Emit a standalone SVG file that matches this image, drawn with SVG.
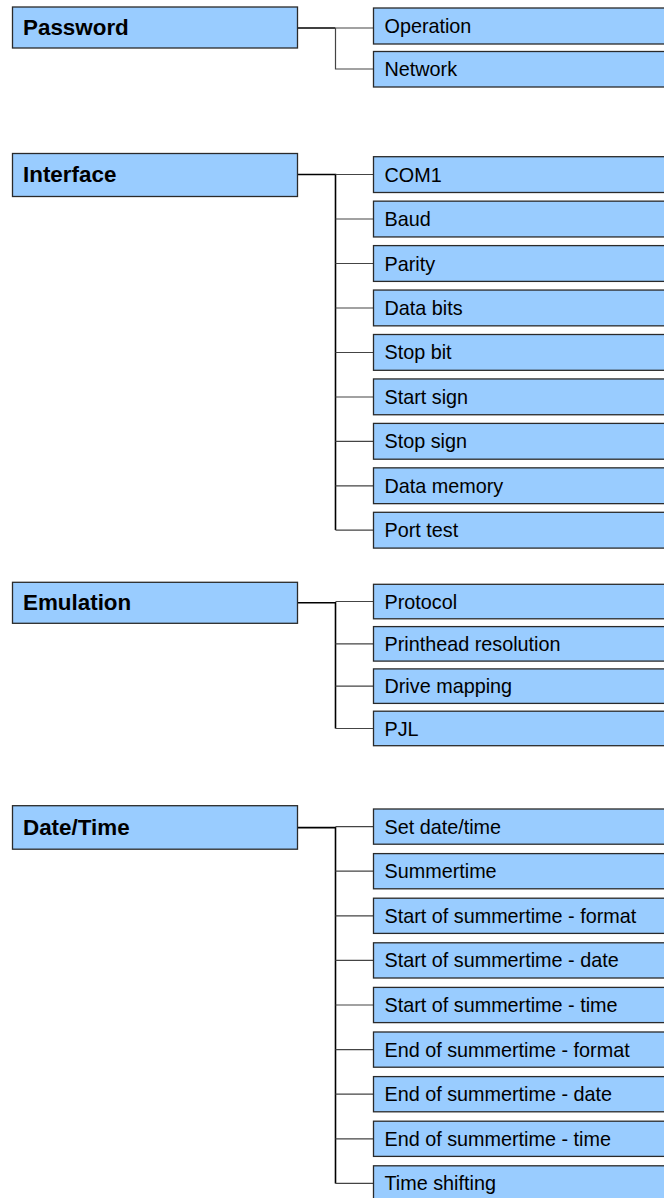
<svg xmlns="http://www.w3.org/2000/svg" width="664" height="1198" viewBox="0 0 664 1198">
<style>
.p{fill:#99CCFF;stroke:#2a2a2a;stroke-width:1.3}
.c{fill:#99CCFF;stroke:#2a2a2a;stroke-width:1.3}
.pt{font-family:"Liberation Sans",Arial,sans-serif;font-weight:bold;font-size:22.4px;fill:#000}
.ct{font-family:"Liberation Sans",Arial,sans-serif;font-size:19.8px;fill:#000}
.m{fill:none;stroke:#000;stroke-width:1.6}
.b{fill:none;stroke:#444;stroke-width:1.2}
</style>
<rect width="664" height="1198" fill="#fff"/>
<g id="connectors">
<path class="m" d="M297.5 28H335.5"/>
<path class="b" d="M335.5 28V69H373.5M335.5 28H373.5"/>
<path class="m" d="M297.5 174.5H335.5V530"/>
<path class="b" d="M335.5 174.5H373.5M335.5 219H373.5M335.5 263.5H373.5M335.5 308H373.5M335.5 352.5H373.5M335.5 397H373.5M335.5 441.3H373.5M335.5 485.8H373.5M335.5 530.2H373.5"/>
<path class="m" d="M297.5 602.7H335.5V728.5"/>
<path class="b" d="M335.5 601.5H373.5M335.5 643.8H373.5M335.5 686.2H373.5M335.5 728.5H373.5"/>
<path class="m" d="M297.5 827.6H335.5V1183.4"/>
<path class="b" d="M335.5 826.6H373.5M335.5 871.2H373.5M335.5 915.8H373.5M335.5 960.4H373.5M335.5 1005H373.5M335.5 1049.6H373.5M335.5 1094.2H373.5M335.5 1138.8H373.5M335.5 1183.4H373.5"/>
</g>
<g id="password"><rect class="p" x="12.5" y="7" width="285" height="41"/><text class="pt" x="23" y="35.2">Password</text></g>
<g id="operation"><rect class="c" x="373.5" y="8" width="300" height="36"/><text class="ct" x="384.5" y="33">Operation</text></g>
<g id="network"><rect class="c" x="373.5" y="51.5" width="300" height="35.5"/><text class="ct" x="384.5" y="76.3">Network</text></g>

<g id="interface"><rect class="p" x="12.5" y="153.5" width="285" height="43"/><text class="pt" x="23" y="182">Interface</text></g>
<g id="com1"><rect class="c" x="373.5" y="156.7" width="300" height="35.8"/><text class="ct" x="384.5" y="181.6">COM1</text></g>
<g id="baud"><rect class="c" x="373.5" y="201.15" width="300" height="35.8"/><text class="ct" x="384.5" y="226">Baud</text></g>
<g id="parity"><rect class="c" x="373.5" y="245.6" width="300" height="35.8"/><text class="ct" x="384.5" y="270.5">Parity</text></g>
<g id="databits"><rect class="c" x="373.5" y="290.05" width="300" height="35.8"/><text class="ct" x="384.5" y="315">Data bits</text></g>
<g id="stopbit"><rect class="c" x="373.5" y="334.5" width="300" height="35.8"/><text class="ct" x="384.5" y="359.4">Stop bit</text></g>
<g id="startsign"><rect class="c" x="373.5" y="378.95" width="300" height="35.8"/><text class="ct" x="384.5" y="403.9">Start sign</text></g>
<g id="stopsign"><rect class="c" x="373.5" y="423.4" width="300" height="35.8"/><text class="ct" x="384.5" y="448.3">Stop sign</text></g>
<g id="datamemory"><rect class="c" x="373.5" y="467.85" width="300" height="35.8"/><text class="ct" x="384.5" y="492.8">Data memory</text></g>
<g id="porttest"><rect class="c" x="373.5" y="512.3" width="300" height="35.8"/><text class="ct" x="384.5" y="537.2">Port test</text></g>

<g id="emulation"><rect class="p" x="12.5" y="582.3" width="285" height="41"/><text class="pt" x="23" y="610">Emulation</text></g>
<g id="protocol"><rect class="c" x="373.5" y="584.3" width="300" height="34.5"/><text class="ct" x="384.5" y="608.5">Protocol</text></g>
<g id="printhead"><rect class="c" x="373.5" y="626.6" width="300" height="34.5"/><text class="ct" x="384.5" y="650.8">Printhead resolution</text></g>
<g id="drivemapping"><rect class="c" x="373.5" y="668.9" width="300" height="34.5"/><text class="ct" x="384.5" y="693.2">Drive mapping</text></g>
<g id="pjl"><rect class="c" x="373.5" y="711.2" width="300" height="34.5"/><text class="ct" x="384.5" y="735.5">PJL</text></g>

<g id="datetime"><rect class="p" x="12.5" y="805.7" width="285" height="43.5"/><text class="pt" x="23" y="834.5">Date/Time</text></g>
<g id="setdatetime"><rect class="c" x="373.5" y="809" width="300" height="35.2"/><text class="ct" x="384.5" y="833.6">Set date/time</text></g>
<g id="summertime"><rect class="c" x="373.5" y="853.6" width="300" height="35.2"/><text class="ct" x="384.5" y="878.2">Summertime</text></g>
<g id="startformat"><rect class="c" x="373.5" y="898.2" width="300" height="35.2"/><text class="ct" x="384.5" y="922.8">Start of summertime - format</text></g>
<g id="startdate"><rect class="c" x="373.5" y="942.8" width="300" height="35.2"/><text class="ct" x="384.5" y="967.4">Start of summertime - date</text></g>
<g id="starttime"><rect class="c" x="373.5" y="987.4" width="300" height="35.2"/><text class="ct" x="384.5" y="1012">Start of summertime - time</text></g>
<g id="endformat"><rect class="c" x="373.5" y="1032" width="300" height="35.2"/><text class="ct" x="384.5" y="1056.6">End of summertime - format</text></g>
<g id="enddate"><rect class="c" x="373.5" y="1076.6" width="300" height="35.2"/><text class="ct" x="384.5" y="1101.2">End of summertime - date</text></g>
<g id="endtime"><rect class="c" x="373.5" y="1121.2" width="300" height="35.2"/><text class="ct" x="384.5" y="1145.8">End of summertime - time</text></g>
<g id="timeshifting"><rect class="c" x="373.5" y="1165.8" width="300" height="35.2"/><text class="ct" x="384.5" y="1190.4">Time shifting</text></g>
</svg>
